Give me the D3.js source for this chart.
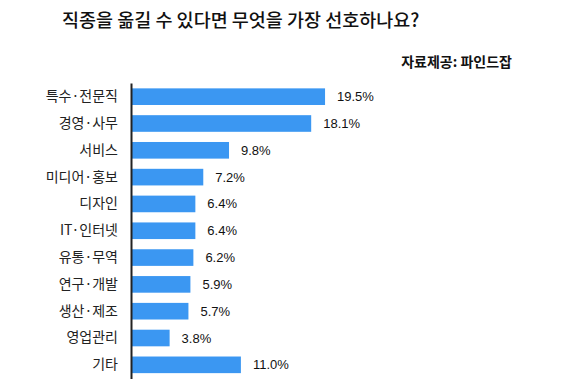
<!DOCTYPE html>
<html>
<head>
<meta charset="utf-8">
<script src="https://cdn.jsdelivr.net/npm/d3@7"></script>
<style>
  body { margin: 0; background: #fff; }
</style>
</head>
<body>
<div id="chart"></div>
<script>
// Data
const categories = ['특수·전문직', '경영·사무', '서비스', '미디어·홍보', '디자인', 'IT·인터넷',
  '유통·무역', '연구·개발', '생산·제조', '영업관리', '기타']
const values = [19.5, 18.1, 9.8, 7.2, 6.4, 6.4, 6.2, 5.9, 5.7, 3.8, 11.0]
const title = '직종을 옮길 수 있다면 무엇을 가장 선호하나요?'
const source = '자료제공: 파인드잡'

const dataset = categories.map((c, i) => ({ category: c, value: values[i] }))

// Dimensions
const dimensions = { width: 563, height: 382 }
const axisX = 131

const svg = d3.select('#chart')
  .append('svg')
  .attr('width', dimensions.width)
  .attr('height', dimensions.height)

// Scales
const yScale = d3.scaleBand()
  .domain(categories)
  .range([83, 378.5])
  .paddingInner(0.38)
  .paddingOuter(0.2)

const xScale = d3.scaleLinear()
  .domain([0, 20])
  .range([axisX + 1, axisX + 1 + 198])

// Title
svg.append('text')
  .attr('x', 62)
  .attr('y', 27)
  .attr('font-family', '"Noto Sans CJK KR", sans-serif')
  .attr('font-size', 18.5)
  .attr('font-weight', 500)
  .attr('fill', '#111')
  .text(title)

svg.append('text')
  .attr('x', 512)
  .attr('y', 67)
  .attr('text-anchor', 'end')
  .attr('font-family', '"Noto Sans CJK KR", sans-serif')
  .attr('font-size', 14)
  .attr('font-weight', 700)
  .attr('fill', '#111')
  .text(source)

// Bars
svg.append('g')
  .selectAll('rect')
  .data(dataset)
  .join('rect')
  .attr('x', xScale(0))
  .attr('y', d => yScale(d.category))
  .attr('width', d => xScale(d.value) - xScale(0))
  .attr('height', yScale.bandwidth())
  .attr('fill', '#3b97f2')

// Value labels
svg.append('g')
  .selectAll('text')
  .data(dataset)
  .join('text')
  .attr('x', d => xScale(d.value) + 12)
  .attr('y', d => yScale(d.category) + yScale.bandwidth() / 2)
  .attr('dy', '0.35em')
  .attr('font-family', '"Liberation Sans", sans-serif')
  .attr('font-size', 13)
  .attr('fill', '#111')
  .text(d => d.value.toFixed(1) + '%')

// Axis
const yAxis = d3.axisLeft(yScale).tickSize(0).tickPadding(13)
const yAxisGroup = svg.append('g')
  .attr('transform', `translate(${axisX}, 0)`)
  .call(yAxis)

yAxisGroup.select('.domain')
  .attr('stroke', '#222')
  .attr('stroke-width', 2)

yAxisGroup.selectAll('text')
  .attr('font-family', '"Noto Sans CJK KR", sans-serif')
  .attr('font-size', 14)
  .attr('fill', '#222')
</script>
</body>
</html>
